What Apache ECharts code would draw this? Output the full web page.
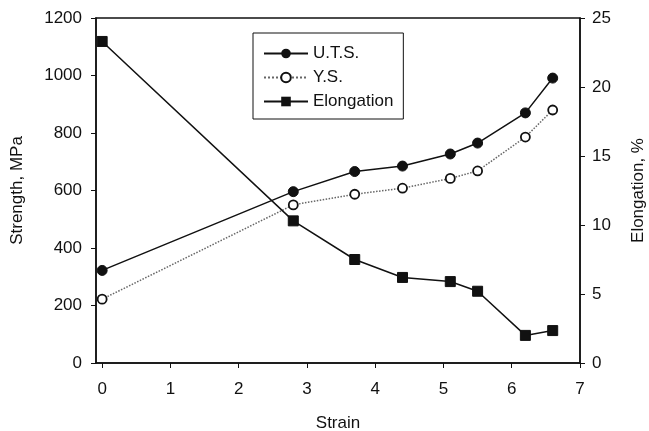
<!DOCTYPE html>
<html>
<head>
<meta charset="utf-8">
<script src="https://cdn.jsdelivr.net/npm/echarts@6/dist/echarts.min.js"></script>
<style>
  html, body { margin: 0; padding: 0; background: #fff; }
  #main { width: 649px; height: 431px; }
</style>
</head>
<body>
<div id="main"></div>
<script>
// values
var strain = [0, 2.8, 3.7, 4.4, 5.1, 5.5, 6.2, 6.6];
var uts = [322, 596, 666, 685, 727, 765, 870, 991];
var ys = [222, 550, 587, 608, 642, 668, 786, 880];
var elong = [23.3, 10.3, 7.5, 6.2, 5.9, 5.2, 2.0, 2.35];
var xTicks = [0, 1, 2, 3, 4, 5, 6, 7];

function pairs(xs, vs) {
    var res = [];
    for (var i = 0; i < xs.length; i++) {
        res.push([xs[i], vs[i]]);
    }
    return res;
}

var myChart = echarts.init(document.getElementById('main'));

var font = 'Liberation Sans, Arial, sans-serif';
var ink = '#111';
var plain = function (v) { return String(v); };

option = {
    backgroundColor: '#fff',
    animation: false,
    textStyle: { fontFamily: font, color: ink },
    grid: {
        left: 96, right: 69, top: 18, bottom: 68,
        outerBoundsMode: 'none',
        containLabel: false,
        show: true, borderColor: ink, borderWidth: 1.5
    },
    legend: {
        orient: 'vertical',
        left: 253,
        top: 33,
        padding: [12, 10, 9, 10],
        borderColor: ink,
        borderWidth: 1,
        backgroundColor: '#fff',
        itemWidth: 44,
        itemHeight: 12,
        itemGap: 7,
        itemTextGap: 11,
        textStyle: { fontSize: 17, color: ink, fontFamily: font },
        data: ['U.T.S.', 'Y.S.', 'Elongation']
    },
    xAxis: {
        type: 'value',
        min: -0.09,
        max: 7,
        name: 'Strain',
        nameLocation: 'middle',
        nameGap: 52,
        nameTextStyle: { fontSize: 17, color: ink },
        axisLine: { onZero: false, lineStyle: { color: ink, width: 1.5 } },
        axisTick: { inside: false, length: 5, customValues: xTicks, lineStyle: { color: ink } },
        axisLabel: { fontSize: 17, color: ink, margin: 18, customValues: xTicks, formatter: plain },
        splitLine: { show: false }
    },
    yAxis: [{
        type: 'value',
        min: 0,
        max: 1200,
        interval: 200,
        name: 'Strength, MPa',
        nameLocation: 'middle',
        nameRotate: 90,
        nameGap: 70,
        nameTextStyle: { fontSize: 17, color: ink },
        axisLine: { show: true, onZero: false, lineStyle: { color: ink, width: 1.5 } },
        axisTick: { show: true, length: 5, lineStyle: { color: ink } },
        axisLabel: { fontSize: 17, color: ink, margin: 14, formatter: plain },
        splitLine: { show: false }
    }, {
        type: 'value',
        position: 'right',
        min: 0,
        max: 25,
        interval: 5,
        name: 'Elongation, %',
        nameLocation: 'middle',
        nameRotate: 90,
        nameGap: 50,
        nameTextStyle: { fontSize: 17, color: ink },
        axisLine: { show: true, onZero: false, lineStyle: { color: ink, width: 1.5 } },
        axisTick: { show: true, length: 5, lineStyle: { color: ink } },
        axisLabel: { fontSize: 17, color: ink, margin: 12, formatter: plain },
        splitLine: { show: false }
    }],
    series: [{
        name: 'U.T.S.',
        type: 'line',
        yAxisIndex: 0,
        data: pairs(strain, uts),
        symbol: 'circle',
        symbolSize: 10,
        lineStyle: { color: ink, width: 1.5 },
        itemStyle: { color: ink, borderColor: ink }
    }, {
        name: 'Y.S.',
        type: 'line',
        yAxisIndex: 0,
        data: pairs(strain, ys),
        symbol: 'circle',
        symbolSize: 9,
        lineStyle: { color: '#666', width: 1.5, type: 'dotted' },
        itemStyle: { color: '#fff', borderColor: ink, borderWidth: 1.8 }
    }, {
        name: 'Elongation',
        type: 'line',
        yAxisIndex: 1,
        data: pairs(strain, elong),
        symbol: 'rect',
        symbolSize: 10,
        lineStyle: { color: ink, width: 1.5 },
        itemStyle: { color: ink, borderColor: ink }
    }]
};

myChart.setOption(option);
</script>
</body>
</html>
